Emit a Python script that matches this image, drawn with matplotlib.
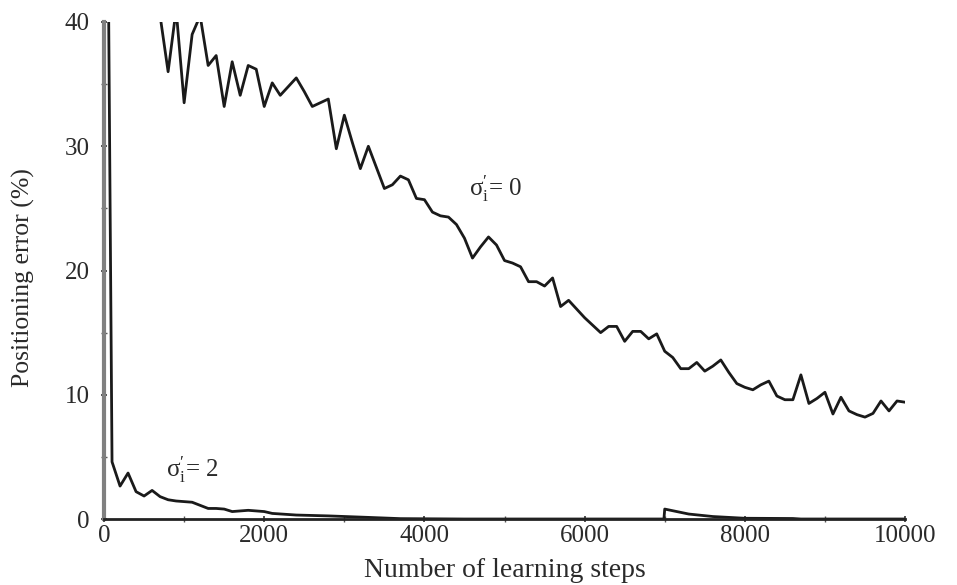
import matplotlib
matplotlib.use("Agg")
import matplotlib.pyplot as plt
from matplotlib.ticker import MultipleLocator
import numpy as np

plt.rcParams['font.family'] = ['Liberation Serif', 'DejaVu Serif']
plt.rcParams['mathtext.fontset'] = 'custom'
plt.rcParams['mathtext.rm'] = 'Liberation Serif'
plt.rcParams['mathtext.it'] = 'Liberation Serif:italic'

# sigma_i' = 0 curve, sampled every 100 steps from 700 to 10000
steps0 = np.arange(700, 10001, 100)
err0 = [40.5, 36.0, 41.0, 33.5, 39.0, 40.5, 36.5, 37.3, 33.2, 36.8,
        34.1, 36.5, 36.2, 33.2, 35.1, 34.1, 34.8, 35.5, 34.4, 33.2,
        33.5, 33.8, 29.8, 32.5, 30.3, 28.2, 30.0, 28.3, 26.6, 26.9,
        27.6, 27.3, 25.8, 25.7, 24.7, 24.4, 24.3, 23.7, 22.6, 21.0,
        21.9, 22.7, 22.05, 20.8, 20.6, 20.3, 19.1, 19.1, 18.75, 19.4,
        17.1, 17.6, 16.9, 16.2, 15.6, 15.0, 15.5, 15.5, 14.3, 15.1,
        15.1, 14.5, 14.9, 13.5, 13.0, 12.1, 12.1, 12.6, 11.9, 12.3,
        12.8, 11.8, 10.9, 10.6, 10.4, 10.8, 11.1, 9.9, 9.6, 9.6,
        11.6, 9.3, 9.7, 10.2, 8.45, 9.8, 8.7, 8.4, 8.2, 8.5,
        9.5, 8.7, 9.5, 9.4]

# sigma_i' = 2 curve
steps2 = [0, 100, 200, 300, 400, 500, 600, 700, 800, 900,
          1000, 1100, 1200, 1300, 1400, 1500, 1600, 1700, 1800, 2000,
          2100, 2400, 2800, 3300, 3700, 4500, 6990,
          7000, 7300, 7600, 8000, 8600, 8700, 10000]
err2 = [90.0, 4.6, 2.65, 3.7, 2.2, 1.85, 2.3, 1.8, 1.55, 1.45,
        1.4, 1.35, 1.1, 0.85, 0.85, 0.8, 0.6, 0.65, 0.7, 0.6,
        0.45, 0.32, 0.25, 0.13, 0.03, 0.0, 0.0,
        0.8, 0.4, 0.2, 0.06, 0.04, 0.0, 0.0]

fig = plt.figure(figsize=(9.57, 5.85), dpi=100)
ax = fig.add_axes([0.1087, 0.1128, 0.837, 0.8496])

ax.plot(steps0, err0, color='#1a1a1a', linewidth=2.0)
ax.plot(steps2, err2, color='#1a1a1a', linewidth=2.0)

ax.set_xlim(0, 10000)
ax.set_ylim(0, 40)

ax.spines['top'].set_visible(False)
ax.spines['right'].set_visible(False)
ax.spines['left'].set_color('#808080')
ax.spines['left'].set_linewidth(3)
ax.spines['bottom'].set_color('#222222')
ax.spines['bottom'].set_linewidth(2)

ax.xaxis.set_major_locator(MultipleLocator(2000))
ax.xaxis.set_minor_locator(MultipleLocator(1000))
ax.yaxis.set_major_locator(MultipleLocator(10))
ax.yaxis.set_minor_locator(MultipleLocator(5))
ax.tick_params(which='major', direction='inout', length=5, width=1.2,
               labelsize=18, colors='#333333')
ax.tick_params(axis='x', which='major', pad=2)
ax.tick_params(axis='y', which='major', pad=8)
ax.tick_params(which='minor', direction='inout', length=4, width=1.0, colors='#555555')
for lab in ax.get_xticklabels() + ax.get_yticklabels():
    lab.set_color('#2a2a2a')

ax.set_xlabel('Number of learning steps', fontsize=20, color='#2a2a2a', labelpad=8)
ax.set_ylabel('Positioning error (%)', fontsize=18.5, color='#2a2a2a')
ax.yaxis.set_label_coords(-0.086, 0.485)

ax.text(4560, 26.6, r"$\mathrm{σ}_\mathrm{i}^{\prime}$= 0", fontsize=18,
        color='#2a2a2a', ha='left', va='center')
ax.text(770, 4.0, r"$\mathrm{σ}_\mathrm{i}^{\prime}$= 2", fontsize=18,
        color='#2a2a2a', ha='left', va='center')

fig.savefig('out.png', dpi=100)
